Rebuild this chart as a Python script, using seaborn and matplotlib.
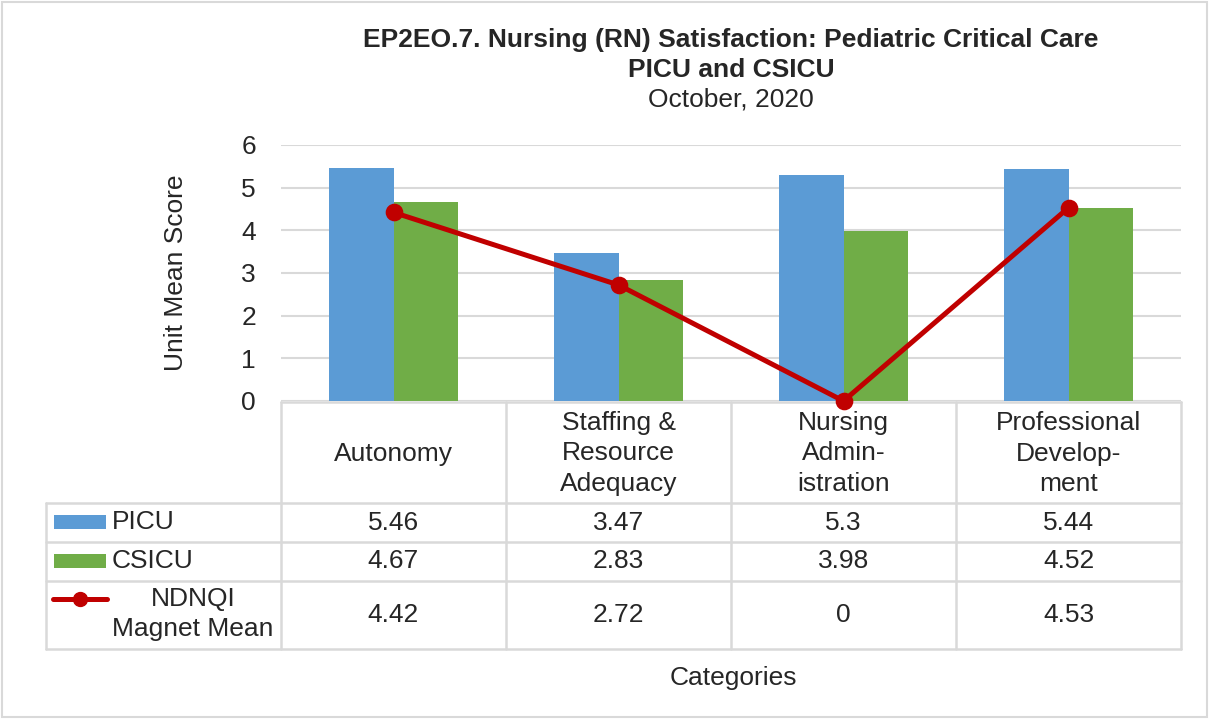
import pandas as pd
import seaborn as sns
import matplotlib.pyplot as plt
from matplotlib.patches import Rectangle
from matplotlib.lines import Line2D

categories = ['Autonomy', 'Staffing &\nResource\nAdequacy', 'Nursing\nAdmin-\nistration', 'Professional\nDevelop-\nment']
picu = [5.46, 3.47, 5.3, 5.44]
csicu = [4.67, 2.83, 3.98, 4.52]
ndnqi = [4.42, 2.72, 0, 4.53]
series_names = ['PICU', 'CSICU', 'NDNQI\nMagnet Mean']

blue = '#5B9BD5'
green = '#70AD47'
red = '#C00000'
grid = '#D9D9D9'

bars = pd.DataFrame({
    'cat': categories * 2,
    'unit': ['PICU'] * 4 + ['CSICU'] * 4,
    'score': picu + csicu,
})
line = pd.DataFrame({'cat': categories, 'score': ndnqi})

sns.set_theme(style='white')
plt.rcParams['font.family'] = ['Liberation Sans', 'DejaVu Sans']
FS = 19

W, H = 1209, 719
fig = plt.figure(figsize=(W / 100, H / 100), dpi=100)

# pixel helper for layout
def box(x0, y0, x1, y1):
    return [x0 / W, 1 - y1 / H, (x1 - x0) / W, (y1 - y0) / H]

# overlay canvas in pixel coordinates
can = fig.add_axes([0, 0, 1, 1])
can.set_xlim(0, W)
can.set_ylim(H, 0)
can.axis('off')

ax = fig.add_axes(box(281, 145, 1181, 401))
sns.barplot(data=bars, x='cat', y='score', hue='unit', palette=[blue, green],
            width=0.573, gap=0, ax=ax, legend=False, saturation=1, linewidth=0)
sns.pointplot(data=line, x='cat', y='score', color=red, ax=ax,
              markers='o', markersize=10, linewidth=3.6)
for ln in ax.lines:
    ln.set_clip_on(False)
ax.set_ylim(0, 6)
ax.set_yticks(range(0, 7))
ax.set_yticklabels([str(i) for i in range(7)], fontsize=FS)
ax.tick_params(axis='y', length=0, pad=18)
ax.set_xticks([])
ax.set_xlabel('')
ax.set_ylabel('Unit Mean Score', fontsize=FS, labelpad=38)
ax.yaxis.grid(True, color=grid, linewidth=1.5)
ax.set_axisbelow(True)
for s in ax.spines.values():
    s.set_visible(False)
ax.patch.set_alpha(0)

# outer border
can.add_patch(Rectangle((2, 2), W - 4, H - 4, fill=False, edgecolor=grid, lw=1.5))

# titles
can.text(731, 40, 'EP2EO.7. Nursing (RN) Satisfaction: Pediatric Critical Care',
         ha='center', va='center', fontsize=FS, fontweight='bold')
can.text(731, 70, 'PICU and CSICU', ha='center', va='center', fontsize=FS, fontweight='bold')
can.text(731, 100, 'October, 2020', ha='center', va='center', fontsize=FS)

# data table
xs = [281, 506, 731, 956, 1181]
rows = [402, 503, 542, 581, 649]
lc = dict(color=grid, lw=1.8)
can.add_line(Line2D([281, 1181], [rows[0], rows[0]], **lc))
for y in rows[1:]:
    can.add_line(Line2D([46, 1181], [y, y], **lc))
for x in xs:
    can.add_line(Line2D([x, x], [rows[0], rows[-1]], **lc))
can.add_line(Line2D([46, 46], [rows[1], rows[-1]], **lc))

for i, c in enumerate(categories):
    cx = (xs[i] + xs[i + 1]) / 2
    can.text(cx, (rows[0] + rows[1]) / 2 + 1, c, ha='center', va='center',
             fontsize=FS, linespacing=1.35)
    for r, vals in enumerate([picu, csicu, ndnqi]):
        cy = (rows[r + 1] + rows[r + 2]) / 2
        can.text(cx, cy, f'{vals[i]:g}', ha='center', va='center', fontsize=FS)

# legend keys in table
can.add_patch(Rectangle((54, 515), 52, 14, color=blue, lw=0))
can.text(112, 522, series_names[0], ha='left', va='center', fontsize=FS)
can.add_patch(Rectangle((54, 554), 52, 14, color=green, lw=0))
can.text(112, 561, series_names[1], ha='left', va='center', fontsize=FS)
can.add_line(Line2D([53, 107], [599, 599], color=red, lw=3.6, solid_capstyle='round'))
can.plot([80], [599], 'o', color=red, markersize=10)
can.text(193, 614, series_names[2], ha='center', va='center', fontsize=FS, linespacing=1.3)

can.text(733, 678, 'Categories', ha='center', va='center', fontsize=FS)

fig.savefig('out.png', dpi=100)
